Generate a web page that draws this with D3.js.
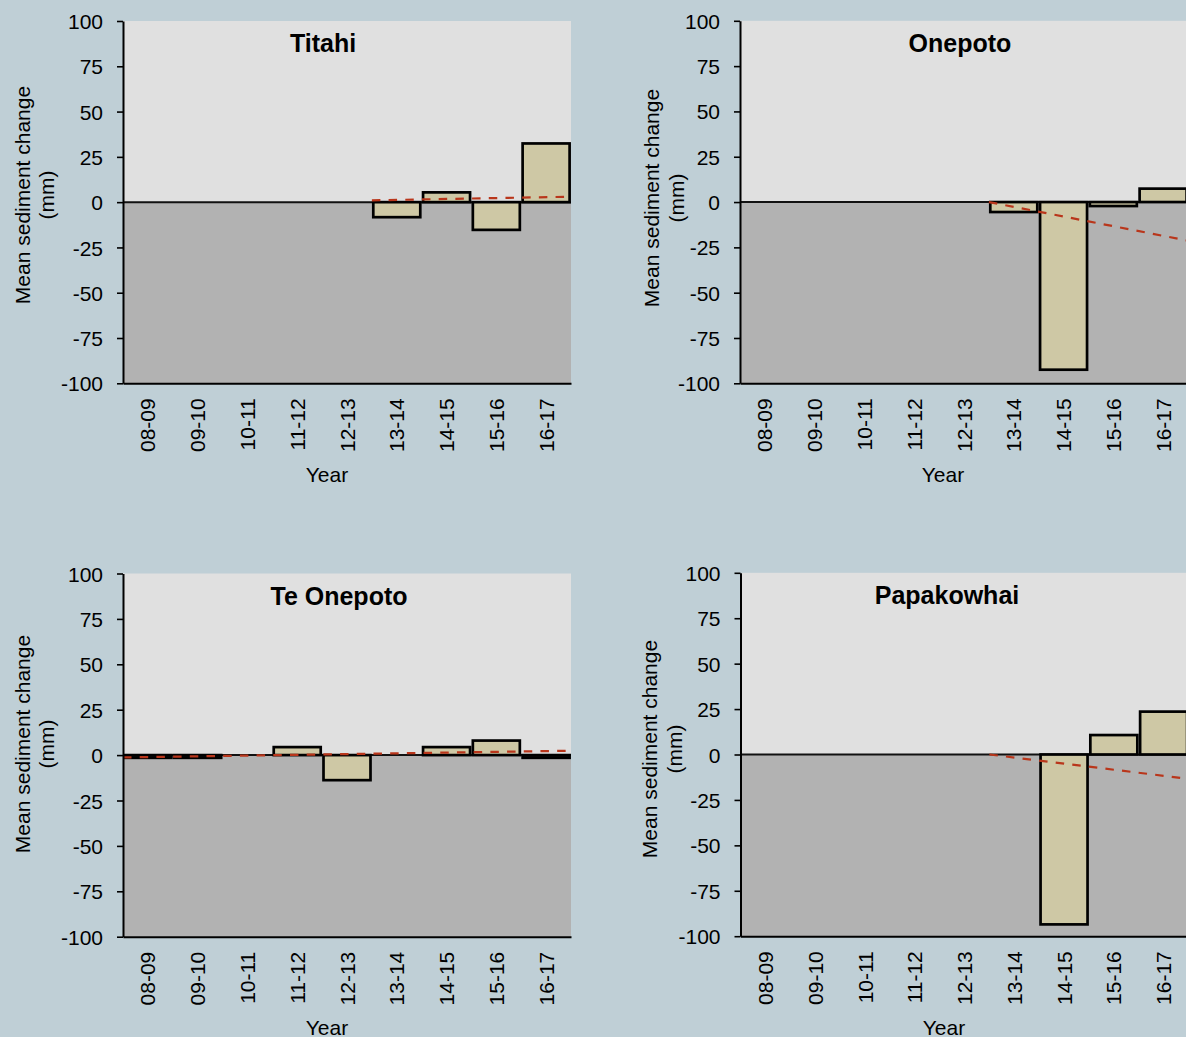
<!DOCTYPE html>
<html>
<head>
<meta charset="utf-8">
<script src="https://cdn.jsdelivr.net/npm/d3@7"></script>
<style>
  html, body { margin: 0; padding: 0; background: #bfcfd6; }
  svg { display: block; font-family: "Liberation Sans", Arial, sans-serif; }
</style>
</head>
<body>
<svg id="chart" width="1186" height="1037"></svg>
<script>
// Survey years (categories on every panel)
const years = ["08-09", "09-10", "10-11", "11-12", "12-13", "13-14", "14-15", "15-16", "16-17"];

// Site names, one panel each
const sites = ["Titahi", "Onepoto", "Te Onepoto", "Papakowhai"];

// Mean sediment change per year (mm); null = not measured
const titahi     = [null, null, null, null, null, -8.3, 5.4, -15.3, 32.4];
const onepoto    = [null, null, null, null, null, -5.5, -92.5, -2.2, 7.4];
const teOnepoto  = [-1.5, -1.5, null, 4.4, -13.8, null, 4.4, 8.0, -1.5];
const papakowhai = [null, null, null, null, null, null, -93.5, 10.7, 23.6];

// Linear trend per site: first category it spans, value there, value at the right edge
const trendFromIndex = [5, 5, 0, 5];
const trendStartValue = [1.0, 0.0, -1.3, 0.0];
const trendEndValue = [3.0, -21.3, 2.4, -13.4];

// Y axis ticks (mm)
const yTicks = [100, 75, 50, 25, 0, -25, -50, -75, -100];

const seriesBySite = [titahi, onepoto, teOnepoto, papakowhai];

// Panel geometry
const panels = [
  { x0: 123, x1: 571,  y0: 21,    y1: 383.3, titleX: 323, yLab1: 29.5, yLab2: 54,  yLabY: 195, yearX: 327 },
  { x0: 740, x1: 1188, y0: 20.8,  y1: 383.3, titleX: 960, yLab1: 659,  yLab2: 684, yLabY: 198, yearX: 943 },
  { x0: 123, x1: 571,  y0: 573.5, y1: 936.7, titleX: 339, yLab1: 29.5, yLab2: 54,  yLabY: 744, yearX: 327 },
  { x0: 740.5, x1: 1188.5, y0: 572.8, y1: 936.2, titleX: 947, yLab1: 657, yLab2: 682, yLabY: 749, yearX: 944 }
];

const FONT = 21;
const svg = d3.select("#chart");

panels.forEach((p, i) => {
  const values = seriesBySite[i];
  const g = svg.append("g");

  const x = d3.scaleBand().domain(years).range([p.x0, p.x1])
    .paddingInner(0.056).paddingOuter(0.028);
  const xLin = d3.scaleLinear().domain([0, years.length]).range([p.x0, p.x1]);
  const y = d3.scaleLinear().domain([-100, 100]).range([p.y1, p.y0]);

  // plot background: light above zero, darker below
  g.append("rect").attr("x", p.x0).attr("y", y(100))
    .attr("width", p.x1 - p.x0).attr("height", y(0) - y(100)).attr("fill", "#e0e0e0");
  g.append("rect").attr("x", p.x0).attr("y", y(0))
    .attr("width", p.x1 - p.x0).attr("height", y(-100) - y(0)).attr("fill", "#b2b2b2");

  // zero line
  g.append("line").attr("x1", p.x0).attr("x2", p.x1)
    .attr("y1", y(0)).attr("y2", y(0))
    .attr("stroke", "#111").attr("stroke-width", 2);

  // bars
  const barData = years.map((yr, k) => ({ yr, v: values[k] })).filter(d => d.v !== null);
  g.selectAll("rect.bar").data(barData).join("rect")
    .attr("class", "bar")
    .attr("x", d => x(d.yr))
    .attr("width", x.bandwidth())
    .attr("y", d => y(Math.max(0, d.v)))
    .attr("height", d => Math.abs(y(d.v) - y(0)))
    .attr("fill", "#cec8a5")
    .attr("stroke", "#000")
    .attr("stroke-width", 2.7);

  // trend line
  const tStart = trendFromIndex[i];
  g.append("line")
    .attr("x1", xLin(tStart)).attr("y1", y(trendStartValue[i]))
    .attr("x2", xLin(years.length)).attr("y2", y(trendEndValue[i]))
    .attr("stroke", "#b9361b").attr("stroke-width", 2.2)
    .attr("stroke-dasharray", "8.5,8.2");

  // y axis
  const yAxis = g.append("g").attr("transform", `translate(${p.x0},0)`)
    .call(d3.axisLeft(y).tickValues(yTicks).tickSize(6).tickSizeOuter(0).tickPadding(14).tickFormat(d => String(d)));
  yAxis.select(".domain").attr("stroke", "#000").attr("stroke-width", 2);
  yAxis.selectAll(".tick line").attr("stroke", "#000").attr("stroke-width", 1.6);
  yAxis.selectAll(".tick text").attr("fill", "#000")
    .style("font-size", FONT + "px").style("font-family", "Liberation Sans, Arial, sans-serif")
    .attr("dy", "0.36em");

  // x axis along the bottom
  const xAxis = g.append("g").attr("transform", `translate(0,${p.y1})`)
    .call(d3.axisBottom(x).tickSize(0).tickSizeOuter(0));
  xAxis.select(".domain").attr("stroke", "#000").attr("stroke-width", 2);
  xAxis.selectAll(".tick text")
    .attr("transform", "rotate(-90)")
    .attr("x", -15).attr("y", 0).attr("dy", "0.36em")
    .attr("text-anchor", "end").attr("fill", "#000")
    .style("font-size", FONT + "px").style("font-family", "Liberation Sans, Arial, sans-serif");

  // title
  g.append("text").attr("x", p.titleX).attr("y", p.y0 + 31)
    .attr("text-anchor", "middle").attr("font-weight", "bold")
    .style("font-size", "25px").attr("fill", "#000")
    .text(sites[i]);

  // y axis title (two lines)
  g.append("text").attr("transform", `translate(${p.yLab1},${p.yLabY}) rotate(-90)`)
    .attr("text-anchor", "middle").style("font-size", FONT + "px").attr("fill", "#000")
    .text("Mean sediment change");
  g.append("text").attr("transform", `translate(${p.yLab2},${p.yLabY}) rotate(-90)`)
    .attr("text-anchor", "middle").style("font-size", FONT + "px").attr("fill", "#000")
    .text("(mm)");

  // x axis title
  g.append("text").attr("x", p.yearX).attr("y", p.y1 + 98.5)
    .attr("text-anchor", "middle").style("font-size", FONT + "px").attr("fill", "#000")
    .text("Year");
});
</script>
</body>
</html>
